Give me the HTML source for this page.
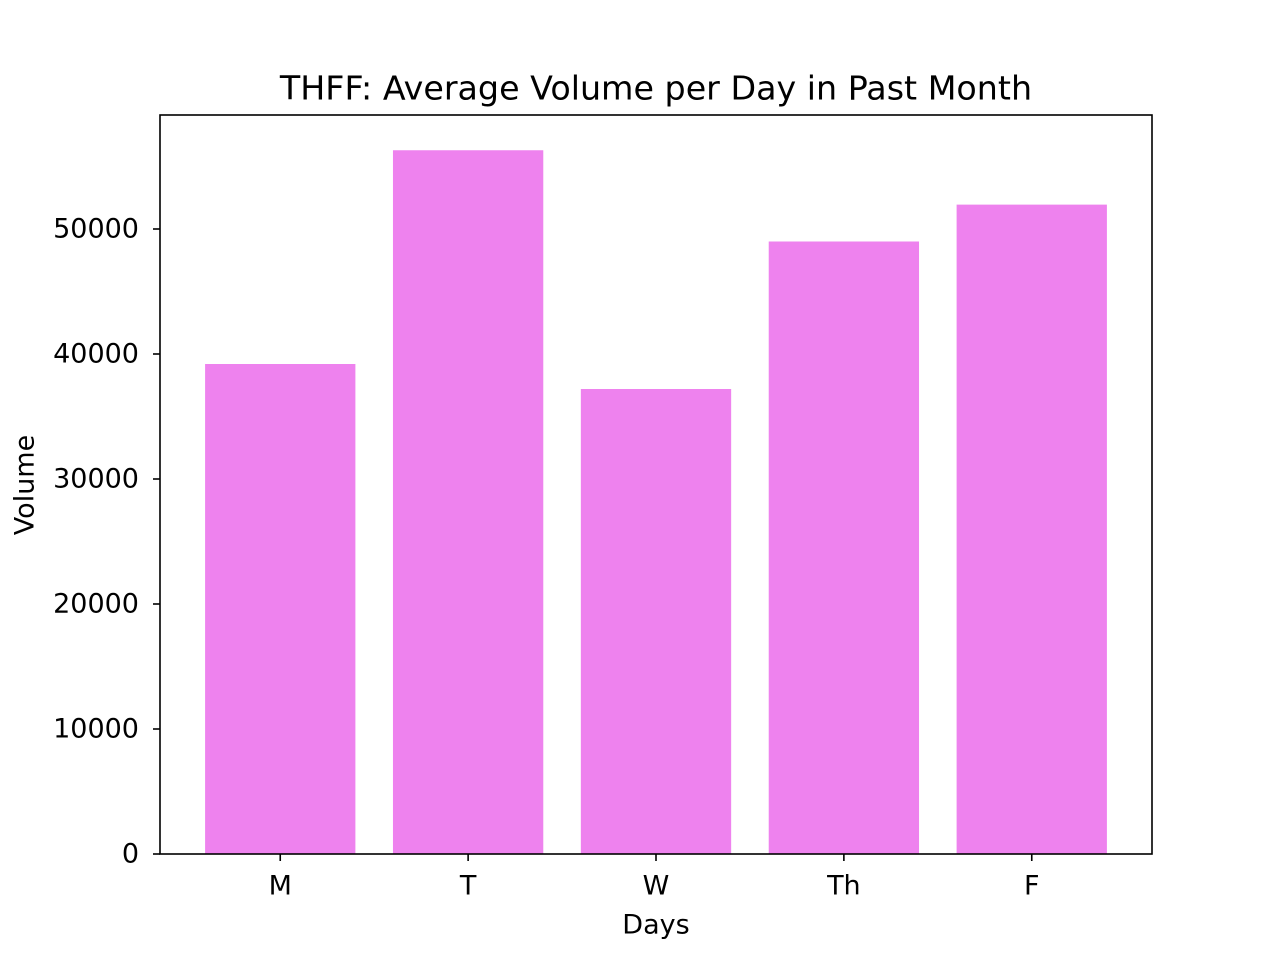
<!DOCTYPE html>
<html><head><meta charset="utf-8"><style>
body{margin:0;background:#fff}
svg text{font-family:"DejaVu Sans","Liberation Sans",sans-serif;fill:#000}
</style></head><body>
<svg id="chart" width="1280" height="960" xmlns="http://www.w3.org/2000/svg">
<rect width="1280" height="960" fill="#fff"/>
<text x="656" y="88" style="font-size:33.3px" text-anchor="middle" dominant-baseline="central">THFF: Average Volume per Day in Past Month</text>
<g id="bars"></g>
<g id="axes"></g>
<rect x="160" y="115" width="992" height="739" fill="none" stroke="#000" stroke-width="1.6"/>
<text x="656" y="925" style="font-size:27px" text-anchor="middle" dominant-baseline="central">Days</text>
<text x="0" y="0" style="font-size:27px" text-anchor="middle" dominant-baseline="central" transform="translate(25,485) rotate(-90)">Volume</text>
</svg>
<script>
const categories = ["M","T","W","Th","F"];
const volumes = [39200, 56300, 37200, 49000, 51950];
const yTicks = [0,10000,20000,30000,40000,50000];
const NS="http://www.w3.org/2000/svg";
const L=160,R=1152,T=115,B=854;
const xmin=-0.64,xmax=4.64,ymin=0,ymax=59120;
function xs(v){return L+(v-xmin)/(xmax-xmin)*(R-L);}
function ys(v){return B-(v-ymin)/(ymax-ymin)*(B-T);}
const bars=document.getElementById('bars'),axes=document.getElementById('axes');
function mk(tag,attrs,parent){const e=document.createElementNS(NS,tag);for(const k in attrs)e.setAttribute(k,attrs[k]);parent.appendChild(e);return e;}
categories.forEach((c,i)=>{
  const w=xs(0.4)-xs(-0.4);
  const r=mk('rect',{x:xs(i)-w/2,y:ys(volumes[i]),width:w,height:ys(0)-ys(volumes[i]),fill:'#EE82EE'},bars);
  
  
  const t=mk('line',{x1:xs(i),x2:xs(i),y1:B,y2:B+7,stroke:'#000','stroke-width':1.6},axes);
  
  
  const l=mk('text',{x:xs(i),y:B+32,style:'font-size:27px','text-anchor':'middle','dominant-baseline':'central'},axes);
  l.textContent=c;
  
  
});
yTicks.forEach(v=>{
  const t=mk('line',{x1:L-7,x2:L,y1:ys(v),y2:ys(v),stroke:'#000','stroke-width':1.6},axes);
  
  
  const l=mk('text',{x:L-21,y:ys(v),style:'font-size:27px','text-anchor':'end','dominant-baseline':'central'},axes);
  l.textContent=v;
  
  
});
</script>
</body></html>
